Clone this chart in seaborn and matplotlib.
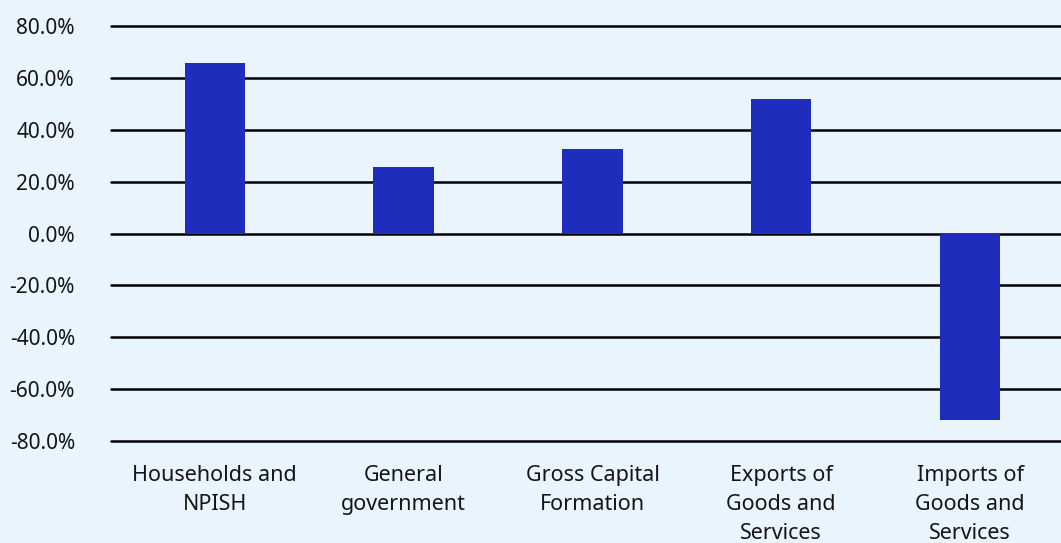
import matplotlib
matplotlib.use("Agg")
import matplotlib.pyplot as plt
import seaborn as sns
import pandas as pd
from matplotlib.ticker import FuncFormatter

categories = [
    "Households and\nNPISH",
    "General\ngovernment",
    "Gross Capital\nFormation",
    "Exports of\nGoods and\nServices",
    "Imports of\nGoods and\nServices",
]
shares = [65.8, 25.8, 32.7, 51.9, -71.8]
yticks = [-80, -60, -40, -20, 0, 20, 40, 60, 80]

bg = "#EAF4FD"
bar_color = "#1F2DBD"

sns.set_theme(style="white")
plt.rcParams["font.family"] = ["Noto Sans", "DejaVu Sans"]

df = pd.DataFrame({"component": categories, "share": shares})

fig = plt.figure(figsize=(10.61, 5.43), dpi=100, facecolor=bg)
ax = fig.add_axes([111 / 1061, 1 - 441 / 543, (1064.5 - 111) / 1061, (441 - 26) / 543])
ax.set_facecolor(bg)

sns.barplot(data=df, x="component", y="share", color=bar_color,
            width=0.32, saturation=1, linewidth=0, ax=ax, zorder=3)

ax.set_ylim(-80, 80)
ax.set_xlim(-0.55, 4.5)
ax.set_yticks(yticks)
ax.yaxis.set_major_formatter(FuncFormatter(lambda v, _: f"{v:.1f}%"))
ax.grid(axis="y", color="black", linewidth=1.8, zorder=1)
ax.grid(axis="x", visible=False)
for gl in ax.get_ygridlines():
    gl.set_clip_on(False)
for s in ax.spines.values():
    s.set_visible(False)
ax.set_xlabel("")
ax.set_ylabel("")
ax.tick_params(axis="y", length=0, pad=26, labelsize=15, labelcolor="#151515")
ax.tick_params(axis="x", length=0, pad=17.5, labelsize=15.5, labelcolor="#151515")
for lbl in ax.get_xticklabels():
    lbl.set_linespacing(1.5)

fig.savefig("out.png", dpi=100, facecolor=bg)
